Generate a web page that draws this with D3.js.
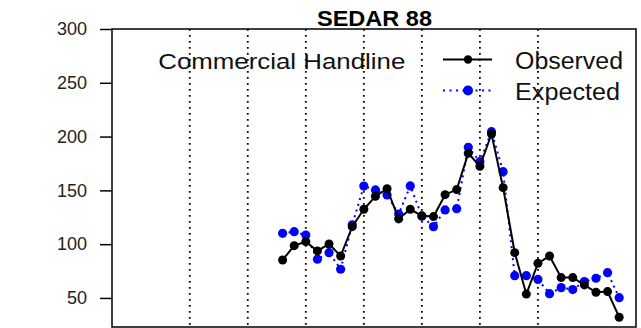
<!DOCTYPE html>
<html>
<head>
<meta charset="utf-8">
<script src="https://cdn.jsdelivr.net/npm/d3@7"></script>
<style>
  body { margin: 0; background: #fff; }
  svg { display: block; font-family: "Liberation Sans", Arial, sans-serif; }
</style>
</head>
<body>
<div id="chart"></div>
<script>
const years = [1993, 1994, 1995, 1996, 1997, 1998, 1999, 2000, 2001, 2002,
  2003, 2004, 2005, 2006, 2007, 2008, 2009, 2010, 2011, 2012,
  2013, 2014, 2015, 2016, 2017, 2018, 2019, 2020, 2021, 2022]

const observed = [85.3, 98.6, 102.3, 93.7, 100.2, 89.0, 116.3, 132.4, 144.5, 151.5,
  123.5, 132.4, 126.3, 125.6, 146, 150.7, 184.5, 172.4, 202.4, 152.5,
  92.1, 53.6, 82.2, 89.0, 68.9, 68.9, 62.1, 55.3, 55.9, 32.1]

const expected = [110.1, 111.6, 108.5, 86.0, 92.1, 76.7, 118, 154, 150.4, 145.7,
  128, 154.1, 126, 116.3, 131.8, 133.0, 190.1, 176.7, 204.6, 167.4,
  70.7, 70.7, 67.2, 54.0, 59.6, 57.8, 65.2, 68.3, 73.5, 50.3]

const refYears = [1985, 1990, 1995, 2000, 2005, 2010, 2015]
const yTicks = [50, 100, 150, 200, 250, 300]

const title = "SEDAR 88"
const fleet = "Commercial Handline"
const seriesNames = ["Observed", "Expected"]

const width = 641, height = 328
const box = { left: 112, right: 636, top: 29, bottom: 327 }

const svg = d3.select("#chart")
  .append("svg")
  .attr("width", width)
  .attr("height", height)

const x = d3.scaleLinear().domain([1978.3, 2023.45]).range([box.left, box.right])
const y = d3.scaleLinear().domain([23, 300]).range([box.bottom, box.top])

// reference lines every 5 years
svg.selectAll("line.ref")
  .data(refYears)
  .enter()
    .append("line")
    .attr("class", "ref")
    .attr("x1", d => x(d))
    .attr("x2", d => x(d))
    .attr("y1", box.top)
    .attr("y2", box.bottom)
    .attr("stroke", "#000")
    .attr("stroke-width", 1.8)
    .attr("stroke-dasharray", "1.8,4.2")

// y axis
const yAxis = svg.append("g")
  .attr("transform", `translate(${box.left},0)`)
  .call(d3.axisLeft(y).tickValues(yTicks).tickSize(12).tickPadding(13))
yAxis.select(".domain").remove()
yAxis.selectAll(".tick line").attr("stroke", "#000").attr("stroke-width", 1.5)
yAxis.selectAll(".tick text")
  .attr("font-size", 18)
  .attr("fill", "#222")
  .attr("font-family", "Liberation Sans, Arial, sans-serif")

const line = d3.line()
  .x((d, i) => x(years[i]))
  .y(d => y(d))

// expected (blue, dotted)
svg.append("path")
  .datum(expected)
  .attr("d", line)
  .attr("fill", "none")
  .attr("stroke", "#0000ff")
  .attr("stroke-width", 2)
  .attr("stroke-dasharray", "2,4")
svg.selectAll("circle.exp")
  .data(expected)
  .enter()
    .append("circle")
    .attr("class", "exp")
    .attr("cx", (d, i) => x(years[i]))
    .attr("cy", d => y(d))
    .attr("r", 4.6)
    .attr("fill", "#0000ff")

// observed (black, solid)
svg.append("path")
  .datum(observed)
  .attr("d", line)
  .attr("fill", "none")
  .attr("stroke", "#000")
  .attr("stroke-width", 2)
svg.selectAll("circle.obs")
  .data(observed)
  .enter()
    .append("circle")
    .attr("class", "obs")
    .attr("cx", (d, i) => x(years[i]))
    .attr("cy", d => y(d))
    .attr("r", 4.5)
    .attr("fill", "#000")

// frame
svg.append("rect")
  .attr("x", box.left)
  .attr("y", box.top)
  .attr("width", box.right - box.left)
  .attr("height", box.bottom - box.top)
  .attr("fill", "none")
  .attr("stroke", "#000")
  .attr("stroke-width", 1.5)

// title
svg.append("text")
  .attr("x", 317)
  .attr("y", 26)
  .attr("font-size", 22)
  .attr("font-weight", "bold")
  .attr("textLength", 115)
  .attr("lengthAdjust", "spacingAndGlyphs")
  .text(title)

svg.append("text")
  .attr("x", 158.3)
  .attr("y", 69)
  .attr("font-size", 22.5)
  .attr("fill", "#111")
  .attr("textLength", 247)
  .attr("lengthAdjust", "spacingAndGlyphs")
  .text(fleet)

// legend
const legend = [
  { name: seriesNames[0], color: "#000", dash: null, y: 59.5, tw: 108 },
  { name: seriesNames[1], color: "#0000ff", dash: "2,4.5", y: 90.5, tw: 105 }
]
const lg = svg.selectAll("g.legend")
  .data(legend)
  .enter()
    .append("g")
    .attr("class", "legend")
lg.append("line")
  .attr("x1", 443).attr("x2", 492)
  .attr("y1", d => d.y).attr("y2", d => d.y)
  .attr("stroke", d => d.color)
  .attr("stroke-width", 2)
  .attr("stroke-dasharray", d => d.dash)
lg.append("circle")
  .attr("cx", 468)
  .attr("cy", d => d.y)
  .attr("r", d => d.color === "#000" ? 4.2 : 5)
  .attr("fill", d => d.color)
lg.append("text")
  .attr("x", 515)
  .attr("y", d => d.y + 9)
  .attr("font-size", 23)
  .attr("fill", "#111")
  .attr("textLength", d => d.tw)
  .attr("lengthAdjust", "spacingAndGlyphs")
  .text(d => d.name)
</script>
</body>
</html>
